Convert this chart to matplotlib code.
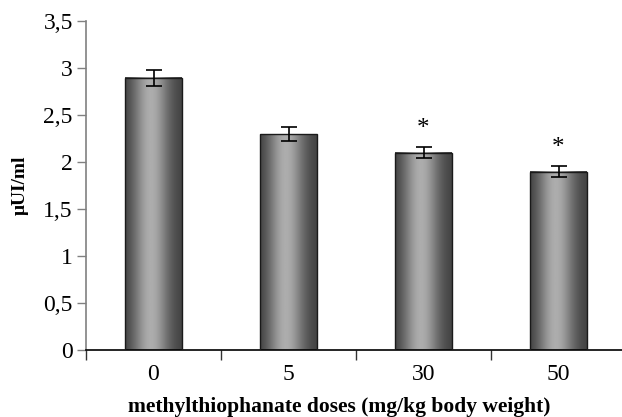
import matplotlib
matplotlib.use("Agg")
import matplotlib.pyplot as plt
import numpy as np
from matplotlib.ticker import FixedLocator

categories = ["0", "5", "30", "50"]
values = [2.9, 2.3, 2.1, 1.9]
errors = [0.085, 0.07, 0.06, 0.06]
significant = [False, False, True, True]
yticks = [0, 0.5, 1, 1.5, 2, 2.5, 3, 3.5]
ytick_labels = ["0", "0,5", "1", "1,5", "2", "2,5", "3", "3,5"]

plt.rcParams['font.family'] = ['Liberation Serif', 'DejaVu Serif']

fig = plt.figure(figsize=(6.22, 4.17), dpi=100)
ax = fig.add_axes([86/622, 1-350/417, 540/622, (350-21.4)/417])

x = np.arange(len(categories))
bars = ax.bar(x, values, width=0.42, color='none', edgecolor='#1a1a1a', linewidth=1.0, zorder=3)

# horizontal gradient fill for each bar
t = np.linspace(0, 1, 256)
prof = 0.2 + 0.46 * np.exp(-((t - 0.45) / 0.33) ** 2) + 0.04 * t
grad = np.tile(prof, (2, 1))
for b in bars:
    x0, w, h = b.get_x(), b.get_width(), b.get_height()
    ax.imshow(grad, cmap='gray', vmin=0, vmax=1, aspect='auto',
              extent=[x0, x0 + w, 0, h], zorder=2, interpolation='bilinear')

ax.errorbar(x, values, yerr=errors, fmt='none', ecolor='black', elinewidth=1.2,
            capsize=6, capthick=1.2, zorder=4)

for xi, v, e, s in zip(x, values, errors, significant):
    if s:
        ax.text(xi, v + e + 0.19, "*", ha='center', va='center', fontsize=18)

ax.set_xlim(-0.5, 3.5)
ax.set_ylim(0, 3.5)
ax.set_yticks(yticks)
ax.set_yticklabels(ytick_labels, fontsize=17)
ax.set_xticks(x)
ax.set_xticklabels(categories, fontsize=17)
ax.xaxis.set_minor_locator(FixedLocator([-0.5, 0.5, 1.5, 2.5, 3.5]))
ax.tick_params(axis='x', which='major', length=0, pad=10)
ax.tick_params(axis='x', which='minor', length=7, width=1, color='#333333', direction='out')
ax.tick_params(axis='y', length=6.5, width=1, color='#808080', direction='out', pad=3)

for s in ['top', 'right']:
    ax.spines[s].set_visible(False)
ax.spines['left'].set_color('#808080')
ax.spines['left'].set_linewidth(1.2)
ax.spines['bottom'].set_color('black')
ax.spines['bottom'].set_linewidth(1.2)

ax.set_ylabel("μUI/ml", fontsize=14, fontweight='bold')
ax.yaxis.set_label_coords((20 - 86) / 540, (350 - 185) / 328.6)
ax.set_xlabel("methylthiophanate doses (mg/kg body weight)", fontsize=15.5, fontweight='bold')
ax.xaxis.set_label_coords((339 - 86) / 540, (350 - 407) / 328.6)
ax.xaxis.label.set_va('center')
ax.yaxis.label.set_va('center')

fig.savefig("out.png", dpi=100)
